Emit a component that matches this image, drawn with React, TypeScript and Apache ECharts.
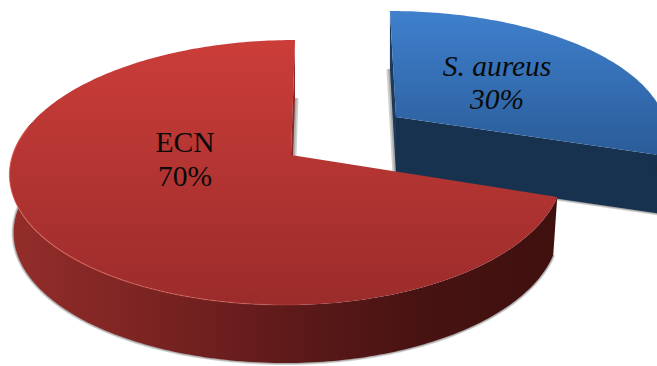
import React, { useEffect, useRef } from "react";
import * as echarts from "echarts";

// Slices in drawing order: the rear slice first so the larger one overlaps it.
const categories = ["S. aureus", "ECN"];
const percentages = [30, 70];
const italicLabels = [true, false];

// Projection and placement of each exploded slice on the page.
const sliceLayouts = [
  {
    apexX: 396, apexY: 117, up: 106, down: 138, radiusLeft: 268, radiusRight: 268, shear: 0.057, depth: 58,
    labelX: 497, labelY1: 66, labelY2: 99,
    topStops: ["#3f80cd", "#2a5c98"], wall: "#17324f", wallBack: "#1b3a5e", sideStops: ["#17324f", "#17324f"],
  },
  {
    apexX: 291, apexY: 155, up: 115, down: 150, radiusLeft: 278.5, radiusRight: 270, shear: -0.035, depth: 58,
    labelX: 185, labelY1: 142, labelY2: 176,
    topStops: ["#cb3d39", "#9b2c2b"], wall: "#3f100e", wallBack: "#8f2626",
    sideStops: ["#932d2a", "#7c2422", "#5f1a1a", "#471312", "#3f100e"],
  },
];

type Layout = (typeof sliceLayouts)[number];

// Maps an angle (degrees clockwise from the back of the pie) to page coordinates.
function project(l: Layout, deg: number, depth: number): number[] {
  const a = (deg * Math.PI) / 180;
  const p = (l.down - l.up) / (l.down + l.up);
  const ky = l.up * (1 + p);
  const s = -Math.cos(a);
  const sn = Math.sin(a);
  const w = 1 - p * s;
  const kx = sn >= 0 ? l.radiusRight : l.radiusLeft;
  const y0 = (ky * s) / w;
  const x0 = (kx * sn) / w;
  const shrink = 1 - 0.015 * (depth / 58);
  return [l.apexX + x0 * shrink + l.shear * y0, l.apexY + y0 + depth];
}

function arc(l: Layout, from: number, to: number, depth: number): number[][] {
  const pts: number[][] = [];
  const n = Math.max(2, Math.ceil(Math.abs(to - from)));
  for (let i = 0; i <= n; i++) pts.push(project(l, from + ((to - from) * i) / n, depth));
  return pts;
}

const vertical = (stops: string[]) =>
  new echarts.graphic.LinearGradient(0, 0, 0, 1, stops.map((color, i) => ({ offset: i / (stops.length - 1), color })));
const horizontal = (stops: string[]) =>
  new echarts.graphic.LinearGradient(0, 0, 1, 0, stops.map((color, i) => ({ offset: i / (stops.length - 1), color })));

// Soft drop shadow along a lower edge, built from two translucent strokes.
function softEdge(points: number[][], wide: number) {
  return [wide, wide / 2].map((lineWidth) => ({
    type: "polyline",
    shape: { points },
    style: { fill: "none", stroke: "rgba(40,40,40,0.22)", lineWidth },
  }));
}

function renderSlice(params: any, api: any) {
  const i = params.dataIndex;
  const l = sliceLayouts[i];
  const total = percentages.reduce((a, b) => a + b, 0);
  const before = percentages.slice(0, i).reduce((a, b) => a + b, 0);
  const start = (before / total) * 360;
  const end = ((before + api.value(0)) / total) * 360;
  const apex0 = [l.apexX, l.apexY];
  const apexD = [l.apexX, l.apexY + l.depth];
  const children: any[] = [];

  // Wall exposed along the rear cut edge (angle 0 / 360).
  const rearAngle = start === 0 ? start : end;
  children.push(...softEdge([project(l, rearAngle, l.depth), apexD], 7));
  children.push({
    type: "polygon",
    shape: { points: [project(l, rearAngle, 0), project(l, rearAngle, l.depth), apexD, apex0] },
    style: { fill: l.wallBack },
  });

  // Front wall along the leading cut, only visible on the slice that opens towards the viewer.
  if (start === 0) {
    children.push(...softEdge([apexD, project(l, end, l.depth)], 4));
    children.push({
      type: "polygon",
      shape: { points: [apex0, project(l, end, 0), project(l, end, l.depth), apexD] },
      style: { fill: l.wall },
    });
  }

  // Curved outer rim, limited to the part that faces the viewer.
  const rimFrom = Math.max(start, 85);
  const rimTo = Math.min(end, 285);
  if (rimTo > rimFrom) {
    const rim = [...arc(l, rimFrom, rimTo, 0), ...arc(l, rimTo, rimFrom, l.depth)];
    children.push(...softEdge(arc(l, rimFrom, rimTo, l.depth), 4));
    children.push({
      type: "polygon",
      shape: { points: rim },
      style: { fill: horizontal(l.sideStops) },
    });
  }

  // Top face.
  children.push({
    type: "polygon",
    shape: { points: [apex0, ...arc(l, start, end, 0)] },
    style: { fill: vertical(l.topStops) },
  });

  // Bevel highlight along the lit part of the front edge.
  if (end > 200) {
    children.push({
      type: "polyline",
      shape: { points: arc(l, 172, 283, 0).reverse() },
      style: {
        fill: "none",
        lineWidth: 1.2,
        stroke: new echarts.graphic.LinearGradient(0, 0, 1, 0, [
          { offset: 0, color: "rgba(240,120,110,0.55)" },
          { offset: 0.75, color: "rgba(235,110,100,0.4)" },
          { offset: 1, color: "rgba(235,110,100,0)" },
        ]),
      },
    });
  }

  const font = `${italicLabels[i] ? "italic " : ""}29.5px "Liberation Serif", "Times New Roman", serif`;
  const labelStyle = { font, fill: "#0a0a0a", align: "center", verticalAlign: "middle" };
  children.push(
    { type: "text", style: { ...labelStyle, text: categories[i], x: l.labelX, y: l.labelY1 } },
    { type: "text", style: { ...labelStyle, text: `${api.value(0)}%`, x: l.labelX, y: l.labelY2 } },
  );

  return { type: "group", children };
}

export default function App() {
  const ref = useRef<HTMLDivElement>(null);

  useEffect(() => {
    const chart = echarts.init(ref.current!, undefined, { renderer: "svg" });
    chart.setOption({
      animation: false,
      backgroundColor: "#ffffff",
      series: [
        {
          type: "custom",
          coordinateSystem: "none",
          renderItem: renderSlice,
          data: percentages.map((value, i) => ({ name: categories[i], value: [value] })),
          silent: true,
          clip: false,
        },
      ],
    });
    return () => chart.dispose();
  }, []);

  return <div ref={ref} style={{ position: "absolute", left: 0, top: 0, width: 657, height: 366 }} />;
}
